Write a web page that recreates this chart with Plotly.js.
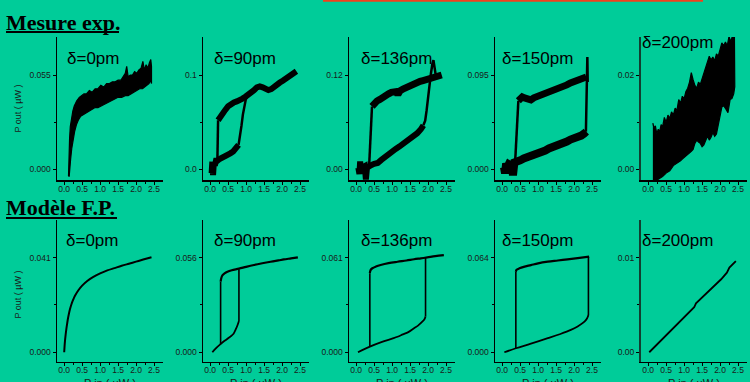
<!DOCTYPE html>
<html><head><meta charset="utf-8">
<script src="https://cdn.plot.ly/plotly-3.0.1.min.js"></script>
<style>html,body{margin:0;padding:0;background:#00CC99;} #chart{width:750px;height:382px;}</style>
</head><body><div id="chart"></div>
<script>
// ---------- tick labels / categories ----------
const xTickVals = [0, 0.5, 1, 1.5, 2, 2.5];
const xTickText = ['0.0', '0.5', '1.0', '1.5', '2.0', '2.5'];
const xMinorVals = [0.25, 0.75, 1.25, 1.75, 2.25];
const deltaLabels = ['δ=0pm', 'δ=90pm', 'δ=136pm', 'δ=150pm', 'δ=200pm'];
const expTopVals = [0.055, 0.1, 0.12, 0.095, 0.02];
const expTickText = [['0.000', '0.055'], ['0.0', '0.1'], ['0.00', '0.12'], ['0.000', '0.095'], ['0.00', '0.02']];
const modTopVals = [0.041, 0.056, 0.061, 0.064, 0.01];
const modTickText = [['0.000', '0.041'], ['0.000', '0.056'], ['0.000', '0.061'], ['0.000', '0.064'], ['0.00', '0.01']];

// ---------- measured data (Mesure exp.) ----------
// delta = 0 pm : noisy band outline (upper edge then lower edge)
const exp0_x = [0.12,0.13,0.15,0.17,0.2,0.24,0.28,0.35,0.42,0.48,0.55,0.62,0.7,0.78,0.86,0.94,1.02,1.1,1.18,1.26,1.34,1.42,1.5,1.58,1.64,1.7,1.74,1.78,1.84,1.9,1.96,2.02,2.08,2.14,2.19,2.23,2.28,2.33,2.37,2.41,2.43,
  2.43,2.40,2.36,2.30,2.24,2.18,2.1,2.02,1.94,1.86,1.78,1.7,1.6,1.5,1.4,1.3,1.2,1.1,1.02,0.94,0.86,0.78,0.7,0.62,0.54,0.46,0.4,0.34,0.29,0.25,0.21,0.18,0.16,0.14,0.12];
const exp0_y = [-0.004,0.008,0.018,0.025,0.030,0.034,0.037,0.040,0.042,0.043,0.044,0.044,0.046,0.045,0.047,0.047,0.049,0.048,0.050,0.050,0.051,0.051,0.052,0.052,0.054,0.056,0.060,0.054,0.055,0.055,0.057,0.056,0.058,0.059,0.063,0.058,0.061,0.059,0.062,0.064,0.060,
  0.050,0.052,0.050,0.049,0.048,0.047,0.047,0.046,0.045,0.044,0.043,0.043,0.042,0.042,0.041,0.040,0.039,0.038,0.037,0.036,0.036,0.035,0.034,0.033,0.032,0.031,0.029,0.026,0.022,0.018,0.012,0.006,0.000,-0.004,-0.004];

// delta = 90 pm
const exp90_lowX = [0.04,0.06,0.08,0.10,0.13,0.16,0.20,0.26,0.32,0.40,0.48,0.56,0.64,0.70,0.75,0.79];
const exp90_lowY = [-0.004,0.008,-0.006,0.006,0.004,0.009,0.009,0.011,0.012,0.013,0.015,0.017,0.019,0.021,0.023,0.026];
const exp90_riseX = [0.79,0.83,0.87,0.91,0.95,0.99,1.03];
const exp90_riseY = [0.026,0.034,0.046,0.058,0.068,0.074,0.077];
const exp90_dropX = [0.20,0.22];
const exp90_dropY = [0.009,0.052];
const exp90_upX = [0.22,0.28,0.35,0.42,0.50,0.58,0.66,0.74,0.82,0.90,0.98,1.06,1.14,1.22,1.30,1.38,1.46,1.54,1.62,1.70,1.78,1.86,1.94,2.02,2.10,2.18,2.26,2.34,2.40];
const exp90_upY = [0.052,0.056,0.059,0.063,0.067,0.070,0.071,0.072,0.073,0.075,0.077,0.079,0.081,0.084,0.087,0.088,0.087,0.085,0.084,0.085,0.088,0.090,0.092,0.094,0.096,0.098,0.100,0.102,0.104];

// delta = 136 pm
const exp136_lowX = [0.06,0.09,0.11,0.14,0.17,0.20,0.24,0.27,0.30,0.34,0.40,0.50,0.60,0.70,0.80,0.90,1.00,1.10,1.20,1.30,1.40,1.50,1.60,1.70,1.80,1.87];
const exp136_lowY = [0.002,-0.006,0.010,-0.004,0.006,0.003,0.004,-0.013,0.002,0.004,0.005,0.007,0.008,0.012,0.016,0.020,0.023,0.026,0.029,0.032,0.035,0.039,0.042,0.046,0.051,0.056];
const exp136_riseX = [1.87,1.92,1.96,2.00,2.04,2.08,2.12,2.15,2.18,2.22];
const exp136_riseY = [0.056,0.062,0.075,0.092,0.108,0.122,0.134,0.139,0.130,0.118];
const exp136_dropX = [0.36,0.40,0.44];
const exp136_dropY = [0.004,0.040,0.080];
const exp136_upX = [0.44,0.50,0.58,0.66,0.74,0.82,0.90,0.98,1.06,1.12,1.16,1.22,1.30,1.38,1.46,1.54,1.62,1.70,1.78,1.86,1.94,2.02,2.10,2.18,2.26,2.33,2.38];
const exp136_upY = [0.080,0.084,0.087,0.089,0.092,0.094,0.096,0.098,0.100,0.099,0.095,0.100,0.102,0.104,0.106,0.107,0.109,0.110,0.112,0.113,0.114,0.116,0.116,0.117,0.119,0.121,0.120];

// delta = 150 pm
const exp150_lowX = [0.05,0.08,0.11,0.14,0.18,0.22,0.26,0.30,0.34,0.40,0.50,0.60,0.70,0.80,0.90,1.00,1.10,1.20,1.30,1.40,1.50,1.60,1.70,1.80,1.90,2.00,2.10,2.20,2.28,2.34];
const exp150_lowY = [0.002,-0.004,0.006,0.002,0.005,0.004,0.006,-0.006,0.007,0.007,0.009,0.011,0.012,0.014,0.015,0.017,0.018,0.019,0.021,0.022,0.024,0.025,0.027,0.028,0.030,0.031,0.033,0.034,0.036,0.038];
const exp150_riseX = [2.33,2.34,2.35,2.36,2.37,2.38];
const exp150_riseY = [0.038,0.060,0.085,0.105,0.113,0.088];
const exp150_dropX = [0.36,0.40,0.45];
const exp150_dropY = [0.007,0.040,0.069];
const exp150_upX = [0.45,0.50,0.56,0.62,0.68,0.74,0.80,0.88,0.96,1.04,1.12,1.20,1.30,1.40,1.50,1.60,1.70,1.80,1.90,2.00,2.10,2.20,2.28,2.34];
const exp150_upY = [0.069,0.072,0.073,0.072,0.071,0.071,0.070,0.072,0.073,0.074,0.076,0.077,0.078,0.080,0.081,0.082,0.084,0.085,0.087,0.088,0.089,0.090,0.092,0.093];

// delta = 200 pm : noisy band outline (upper edge then lower edge)
const exp200_x = [0.13,0.16,0.2,0.24,0.28,0.32,0.36,0.4,0.45,0.5,0.55,0.6,0.65,0.7,0.75,0.8,0.85,0.9,0.95,1.0,1.05,1.1,1.15,1.2,1.25,1.3,1.35,1.4,1.45,1.5,1.55,1.6,1.65,1.7,1.75,1.8,1.85,1.9,1.95,2.0,2.05,2.1,2.15,2.2,2.25,2.3,2.35,2.4,
  2.42,2.41,2.38,2.33,2.28,2.22,2.16,2.1,2.05,2.0,1.95,1.9,1.85,1.8,1.75,1.7,1.65,1.6,1.55,1.5,1.45,1.4,1.35,1.3,1.25,1.2,1.15,1.1,1.05,1.0,0.95,0.9,0.85,0.8,0.7,0.6,0.5,0.4,0.3,0.2,0.13];
const exp200_y = [0.0098,0.0088,0.0092,0.0075,0.0085,0.0080,0.0095,0.0090,0.0110,0.0100,0.0115,0.0108,0.0122,0.0115,0.0130,0.0125,0.0148,0.0140,0.0155,0.0150,0.0165,0.0172,0.0185,0.0205,0.0190,0.0178,0.0172,0.0185,0.0180,0.0192,0.0200,0.0215,0.0228,0.0240,0.0232,0.0238,0.0230,0.0245,0.0240,0.0255,0.0268,0.0262,0.0270,0.0262,0.0282,0.0270,0.0285,0.0285,
  0.0200,0.0175,0.0160,0.0150,0.0148,0.0120,0.0128,0.0135,0.0132,0.0110,0.0095,0.0075,0.0070,0.0078,0.0068,0.0062,0.0070,0.0060,0.0052,0.0048,0.0055,0.0058,0.0062,0.0055,0.0042,0.0038,0.0035,0.0030,0.0028,0.0025,0.0022,0.0018,0.0015,0.0012,0.0008,-0.0003,-0.0008,-0.0015,-0.0020,-0.0025,-0.0025];

// ---------- model data (Modèle F.P.) ----------
const mod0_x = [0,0.02,0.04,0.06,0.08,0.1,0.13,0.16,0.2,0.25,0.3,0.4,0.5,0.65,0.8,1.0,1.2,1.4,1.6,1.8,2.0,2.2,2.43];
const mod0_y = [0,0.0045,0.0075,0.0100,0.0122,0.0142,0.0166,0.0186,0.0207,0.0228,0.0245,0.0270,0.0289,0.0310,0.0326,0.0342,0.0355,0.0365,0.0375,0.0384,0.0393,0.0402,0.0412];

const mod90_lowX = [0.06,0.15,0.29,0.4,0.5,0.57,0.65,0.71,0.76,0.80];
const mod90_lowY = [0,0.0022,0.0049,0.0068,0.0083,0.0094,0.011,0.0135,0.016,0.0185];
const mod90_jumpX = [0.80,0.80];
const mod90_jumpY = [0.0185,0.0491];
const mod90_dropX = [0.29,0.29];
const mod90_dropY = [0.0049,0.0418];
const mod90_upX = [0.29,0.31,0.34,0.4,0.48,0.6,0.8,1.0,1.22,1.45,1.68,1.9,2.05,2.25,2.44];
const mod90_upY = [0.0418,0.0440,0.0455,0.0467,0.0477,0.0486,0.0495,0.0506,0.0517,0.0527,0.0536,0.0544,0.055,0.0556,0.0562];

const mod136_lowX = [0.05,0.38,0.7,1.0,1.15,1.3,1.45,1.61,1.72,1.84,1.9,1.93];
const mod136_lowY = [0,0.0036,0.0065,0.0088,0.010,0.0115,0.013,0.0155,0.0172,0.0197,0.0213,0.023];
const mod136_jumpX = [1.93,1.93];
const mod136_jumpY = [0.023,0.0612];
const mod136_dropX = [0.38,0.38];
const mod136_dropY = [0.0036,0.051];
const mod136_upX = [0.38,0.40,0.45,0.55,0.68,0.9,1.15,1.4,1.61,1.8,1.98,2.2,2.44];
const mod136_upY = [0.051,0.0530,0.0542,0.0553,0.0563,0.0575,0.0584,0.0592,0.0600,0.0606,0.0612,0.0620,0.0627];

const mod150_lowX = [0.06,0.38,0.8,1.27,1.6,1.91,2.1,2.29,2.36,2.40];
const mod150_lowY = [0,0.0027,0.0058,0.0095,0.0122,0.0151,0.0175,0.0207,0.0228,0.0252];
const mod150_jumpX = [2.40,2.40];
const mod150_jumpY = [0.0252,0.0645];
const mod150_dropX = [0.38,0.38];
const mod150_dropY = [0.0027,0.0545];
const mod150_upX = [0.38,0.40,0.48,0.6,0.8,1.0,1.27,1.55,1.82,2.1,2.42];
const mod150_upY = [0.0545,0.0558,0.0568,0.0578,0.059,0.0602,0.0613,0.0621,0.0629,0.0637,0.0647];

const mod200_x = [0.03,0.63,1.28,1.33,2.03,2.19,2.26,2.44];
const mod200_y = [0,0.00228,0.00476,0.00518,0.00772,0.00842,0.00895,0.00965];

// ---------- layout geometry ----------
const W = 750, H = 382;
const colLeft = [57, 203, 349, 495, 641];
const axW = 106;
const rows = [{top: 37, bottom: 180, lo: -0.113, hi: 1.403}, {top: 220, bottom: 361.7, lo: -0.1, hi: 1.399}];
const BG = '#00CC99';

const layout = {
  width: W, height: H, margin: {l: 0, r: 0, t: 0, b: 0},
  paper_bgcolor: BG, plot_bgcolor: BG, showlegend: false,
  font: {family: 'Arial, Liberation Sans, sans-serif', color: '#000'},
  annotations: [], shapes: []
};

const tickFont = {family: 'Arial, Liberation Sans, sans-serif', size: 8.5, color: '#1a1a1a'};

for (let r = 0; r < 2; r++) {
  for (let c = 0; c < 5; c++) {
    const k = r * 5 + c;
    const sfx = k === 0 ? '' : String(k + 1);
    const v = r === 0 ? expTopVals[c] : modTopVals[c];
    const tt = r === 0 ? expTickText[c] : modTickText[c];
    const lc = c === 4 ? '#123d30' : '#000';
    const lw = c === 4 ? 2 : 1.5;
    layout['xaxis' + sfx] = {
      domain: [colLeft[c] / W, (colLeft[c] + axW) / W],
      range: [-0.2, 2.75], anchor: 'y' + sfx,
      showline: true, linecolor: '#000', linewidth: 1.5,
      ticks: 'outside', ticklen: 3, tickwidth: 1, tickcolor: '#000',
      tickmode: 'array', tickvals: xTickVals, ticktext: xTickText,
      ticklabelstandoff: -3,
      minor: {tickmode: 'array', tickvals: xMinorVals, ticks: 'outside', ticklen: 2, tickcolor: '#000', tickwidth: 1},
      showgrid: false, zeroline: false, tickfont: tickFont, fixedrange: true
    };
    layout['yaxis' + sfx] = {
      domain: [1 - rows[r].bottom / H, 1 - rows[r].top / H],
      range: [rows[r].lo * v, rows[r].hi * v], anchor: 'x' + sfx,
      showline: true, linecolor: lc, linewidth: lw,
      ticks: 'outside', ticklen: 3, tickwidth: 1, tickcolor: '#000',
      tickmode: 'array', tickvals: [0, v], ticktext: tt,
      minor: {tickmode: 'array', tickvals: [v / 2], ticks: 'outside', ticklen: 2, tickcolor: '#000', tickwidth: 1},
      showgrid: false, zeroline: false, tickfont: tickFont, fixedrange: true
    };
  }
}

// delta labels
const dlX = [[65.5, 212.5, 359.5, 500.5, 641], [65, 212.5, 359.5, 500.5, 641]];
const dlY = [[58, 58, 58, 58, 42.5], [240.5, 240.5, 240.5, 240.5, 240.5]];
for (let r = 0; r < 2; r++) for (let c = 0; c < 5; c++) {
  layout.annotations.push({
    text: deltaLabels[c], xref: 'paper', yref: 'paper',
    x: dlX[r][c] / W, y: 1 - dlY[r][c] / H, xanchor: 'left', yanchor: 'middle',
    showarrow: false, borderpad: 0, font: {family: 'Arial, Liberation Sans, sans-serif', size: 17, color: '#000'}
  });
}
// section titles
const sectionTitles = ['Mesure exp.', 'Modèle F.P.'];
const secY = [22, 207];
const ulY = [32, 218];
const ulX1 = [119, 117];
for (let r = 0; r < 2; r++) {
  layout.annotations.push({
    text: '<b>' + sectionTitles[r] + '</b>', xref: 'paper', yref: 'paper',
    x: 5 / W, y: 1 - secY[r] / H, xanchor: 'left', yanchor: 'middle', showarrow: false, borderpad: 0,
    font: {family: 'Liberation Serif, Times New Roman, serif', size: 22, color: '#000'}
  });
  layout.shapes.push({type: 'line', xref: 'paper', yref: 'paper',
    x0: 6 / W, x1: ulX1[r] / W, y0: 1 - ulY[r] / H, y1: 1 - ulY[r] / H, line: {color: '#000', width: 2}});
}
// red line at top
layout.shapes.push({type: 'line', xref: 'paper', yref: 'paper',
  x0: 323 / W, x1: 703 / W, y0: 1 - 0.8 / H, y1: 1 - 0.8 / H, line: {color: '#F2401C', width: 2}});
// axis titles
const yTitleY = [109, 295];
for (let r = 0; r < 2; r++) {
  layout.annotations.push({
    text: 'P out ( µW )', xref: 'paper', yref: 'paper', x: 17.5 / W, y: 1 - yTitleY[r] / H,
    xanchor: 'center', yanchor: 'middle', textangle: -90, showarrow: false,
    font: {family: 'Arial, Liberation Sans, sans-serif', size: 9, color: '#1a1a1a'}
  });
}
for (let c = 0; c < 5; c++) {
  layout.annotations.push({
    text: 'P in ( µW )', xref: 'paper', yref: 'paper', x: (colLeft[c] + axW / 2) / W, y: 1 - 375.5 / H,
    xanchor: 'center', yanchor: 'top', showarrow: false, borderpad: 0,
    font: {family: 'Arial, Liberation Sans, sans-serif', size: 11, color: '#1a1a1a'}
  });
}

// ---------- traces ----------
const traces = [];
function ax(k) { return k === 0 ? '' : String(k + 1); }
function addLine(xs, ys, k, w, shape) {
  traces.push({x: xs, y: ys, xaxis: 'x' + ax(k), yaxis: 'y' + ax(k), mode: 'lines',
    line: {color: '#000', width: w, shape: shape || 'linear'}, hoverinfo: 'skip'});
}
function addBand(xs, ys, k) {
  traces.push({x: xs, y: ys, xaxis: 'x' + ax(k), yaxis: 'y' + ax(k), mode: 'lines', fill: 'toself',
    fillcolor: '#000', line: {color: '#000', width: 1.2}, hoverinfo: 'skip'});
}
// measured
addBand(exp0_x, exp0_y, 0);
addLine(exp90_lowX, exp90_lowY, 1, 6);
addLine(exp90_upX, exp90_upY, 1, 6);
addLine(exp90_riseX, exp90_riseY, 1, 2.5);
addLine(exp90_dropX, exp90_dropY, 1, 2.5);
addLine(exp136_lowX, exp136_lowY, 2, 6);
addLine(exp136_upX, exp136_upY, 2, 7);
addLine(exp136_riseX, exp136_riseY, 2, 2.5);
addLine(exp136_dropX, exp136_dropY, 2, 2.5);
addLine(exp150_lowX, exp150_lowY, 3, 8);
addLine(exp150_upX, exp150_upY, 3, 7);
addLine(exp150_riseX, exp150_riseY, 3, 2.5);
addLine(exp150_dropX, exp150_dropY, 3, 2.5);
addBand(exp200_x, exp200_y, 4);
// model
addLine(mod0_x, mod0_y, 5, 2, 'spline');
addLine(mod90_lowX, mod90_lowY, 6, 1.8, 'spline');
addLine(mod90_jumpX, mod90_jumpY, 6, 1.6);
addLine(mod90_dropX, mod90_dropY, 6, 1.6);
addLine(mod90_upX, mod90_upY, 6, 2.2, 'spline');
addLine(mod136_lowX, mod136_lowY, 7, 1.8, 'spline');
addLine(mod136_jumpX, mod136_jumpY, 7, 1.6);
addLine(mod136_dropX, mod136_dropY, 7, 1.6);
addLine(mod136_upX, mod136_upY, 7, 2.2, 'spline');
addLine(mod150_lowX, mod150_lowY, 8, 1.8, 'spline');
addLine(mod150_jumpX, mod150_jumpY, 8, 1.6);
addLine(mod150_dropX, mod150_dropY, 8, 1.6);
addLine(mod150_upX, mod150_upY, 8, 2.2, 'spline');
addLine(mod200_x, mod200_y, 9, 1.8);

Plotly.newPlot('chart', traces, layout, {staticPlot: true, displayModeBar: false});
</script></body></html>
